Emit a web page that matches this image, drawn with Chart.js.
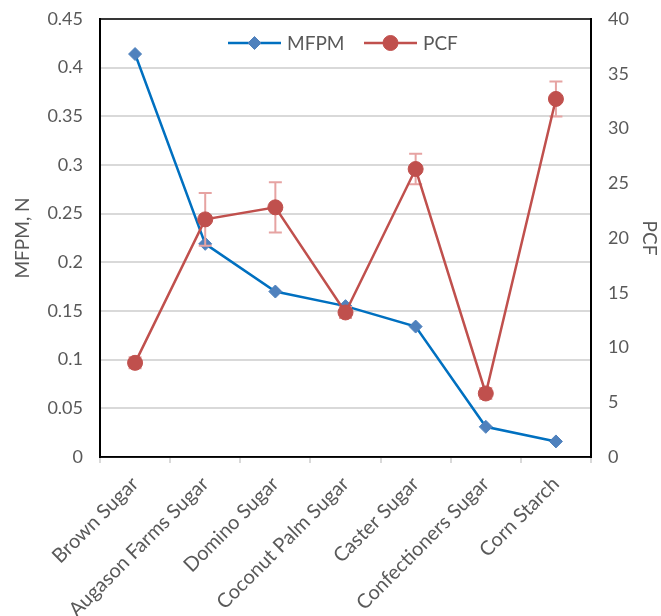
<!DOCTYPE html>
<html>
<head>
<meta charset="utf-8">
<script src="https://cdn.jsdelivr.net/npm/chart.js@4"></script>
<style>
  body { margin: 0; background: #fff; }
</style>
</head>
<body>
<canvas id="chart" width="661" height="616"></canvas>
<script>
// DATA

const categories = ["Brown Sugar", "Augason Farms Sugar", "Domino Sugar", "Coconut Palm Sugar",
  "Caster Sugar", "Confectioners Sugar", "Corn Starch"];

const mfpmValues = [0.414, 0.219, 0.170, 0.155, 0.134, 0.031, 0.016];

const pcfValues = [8.6, 21.7, 22.8, 13.2, 26.3, 5.8, 32.7];

const pcfErrors = [0.5, 2.4, 2.3, 0.5, 1.4, 0.5, 1.6];

const leftTicks = [0, 0.05, 0.1, 0.15, 0.2, 0.25, 0.3, 0.35, 0.4, 0.45];

const rightTicks = [0, 5, 10, 15, 20, 25, 30, 35, 40];


const FONT = "Lato";
const TEXT = "#595959";
const BLUE_LINE = "#0070c0";
const BLUE_MARK = "#4f81bd";
const RED = "#c0504d";
const ERR = "#e6a3a2";


// ERROR BARS (drawn under the PCF line)

const errorBars = {
  id: "errorBars",
  beforeDatasetDraw(chart, args) {
    if (args.index !== 1) return;
    const ctx = chart.ctx;
    const y = chart.scales.y2;
    const pts = chart.getDatasetMeta(1).data;
    ctx.save();
    ctx.strokeStyle = ERR;
    ctx.lineWidth = 2;
    pcfValues.forEach((v, i) => {
      const x = pts[i].x;
      const top = y.getPixelForValue(v + pcfErrors[i]);
      const bot = y.getPixelForValue(v - pcfErrors[i]);
      ctx.beginPath();
      ctx.moveTo(x, top); ctx.lineTo(x, bot);
      ctx.moveTo(x - 6.5, top); ctx.lineTo(x + 6.5, top);
      ctx.moveTo(x - 6.5, bot); ctx.lineTo(x + 6.5, bot);
      ctx.stroke();
    });
    ctx.restore();
  }
};


// PLOT BORDER + LEGEND INSIDE THE PLOT

const frameAndLegend = {
  id: "frameAndLegend",
  afterDraw(chart) {
    const ctx = chart.ctx;
    const a = chart.chartArea;
    ctx.save();
    ctx.strokeStyle = "#000";
    ctx.lineWidth = 1.5;
    ctx.strokeRect(a.left, a.top, a.right - a.left, a.bottom - a.top);

    const ly = a.top + 24;
    const items = [
      { x: a.left + 128, label: "MFPM", line: BLUE_LINE, mark: BLUE_MARK, style: "rectRot", r: 6.5 },
      { x: a.left + 264, label: "PCF", line: RED, mark: RED, style: "circle", r: 7.5 }
    ];
    items.forEach(it => {
      ctx.strokeStyle = it.line;
      ctx.lineWidth = 2.5;
      ctx.beginPath();
      ctx.moveTo(it.x, ly);
      ctx.lineTo(it.x + 53, ly);
      ctx.stroke();
      ctx.fillStyle = it.mark;
      ctx.strokeStyle = it.mark;
      ctx.lineWidth = 1;
      Chart.helpers.drawPoint(ctx, { pointStyle: it.style, radius: it.r, rotation: 0, borderWidth: 1 }, it.x + 26.5, ly);
      ctx.fillStyle = TEXT;
      ctx.font = "19px " + FONT;
      ctx.textBaseline = "middle";
      ctx.fillText(it.label, it.x + 59, ly + 1);
    });
    ctx.restore();
  }
};

function noPad(s) {
  s.paddingTop = 0;
  s.paddingBottom = 0;
  s.paddingLeft = 0;
  s.paddingRight = 0;
}


// CHART

new Chart(document.getElementById("chart"), {
  type: "line",
  data: {
    labels: categories,
    datasets: [
      {
        label: "MFPM",
        data: mfpmValues,
        yAxisID: "y",
        borderColor: BLUE_LINE,
        borderWidth: 2.5,
        pointStyle: "rectRot",
        pointRadius: 6.5,
        pointBackgroundColor: BLUE_MARK,
        pointBorderColor: BLUE_MARK,
        pointBorderWidth: 1,
        tension: 0,
        order: 2
      },
      {
        label: "PCF",
        data: pcfValues,
        yAxisID: "y2",
        borderColor: RED,
        borderWidth: 2.5,
        pointStyle: "circle",
        pointRadius: 7.5,
        pointBackgroundColor: RED,
        pointBorderColor: RED,
        pointBorderWidth: 1,
        tension: 0,
        order: 1
      }
    ]
  },
  options: {
    responsive: false,
    animation: false,
    layout: { padding: { top: 19, left: 0, right: 0, bottom: 0 } },
    plugins: {
      legend: { display: false },
      tooltip: { enabled: false }
    },
    scales: {
      x: {
        offset: true,
        grid: { offset: true, drawOnChartArea: false, color: "#d9d9d9", lineWidth: 2, tickLength: 6 },
        border: { color: "#000", width: 1.5 },
        ticks: {
          color: TEXT,
          font: { family: FONT, size: 20 },
          minRotation: 45,
          maxRotation: 45,
          padding: 9,
          autoSkip: false
        },
        afterFit(s) { s.height = 159; noPad(s); }
      },
      y: {
        position: "left",
        min: leftTicks[0],
        max: leftTicks[leftTicks.length - 1],
        afterBuildTicks(s) { s.ticks = leftTicks.map(v => ({ value: v })); },
        grid: { color: "#d9d9d9", lineWidth: 2, drawTicks: false },
        border: { color: "#000", width: 2 },
        ticks: {
          color: TEXT,
          font: { family: FONT, size: 18 },
          padding: 17,
          callback: v => String(parseFloat(v.toFixed(2)))
        },
        title: {
          display: true,
          text: "MFPM, N",
          color: TEXT,
          font: { family: FONT, size: 19 },
          padding: { top: 11, bottom: 0 }
        },
        afterFit(s) { s.width = 100; noPad(s); }
      },
      y2: {
        position: "right",
        min: rightTicks[0],
        max: rightTicks[rightTicks.length - 1],
        afterBuildTicks(s) { s.ticks = rightTicks.map(v => ({ value: v })); },
        grid: { drawOnChartArea: false, drawTicks: false },
        border: { color: "#000", width: 2 },
        ticks: {
          color: TEXT,
          font: { family: FONT, size: 18 },
          padding: 17
        },
        title: {
          display: true,
          text: "PCF",
          color: TEXT,
          font: { family: FONT, size: 19 },
          padding: { top: 0, bottom: 0 }
        },
        afterFit(s) { s.width = 70; noPad(s); }
      }
    }
  },
  plugins: [errorBars, frameAndLegend]
});
</script>
</body>
</html>
